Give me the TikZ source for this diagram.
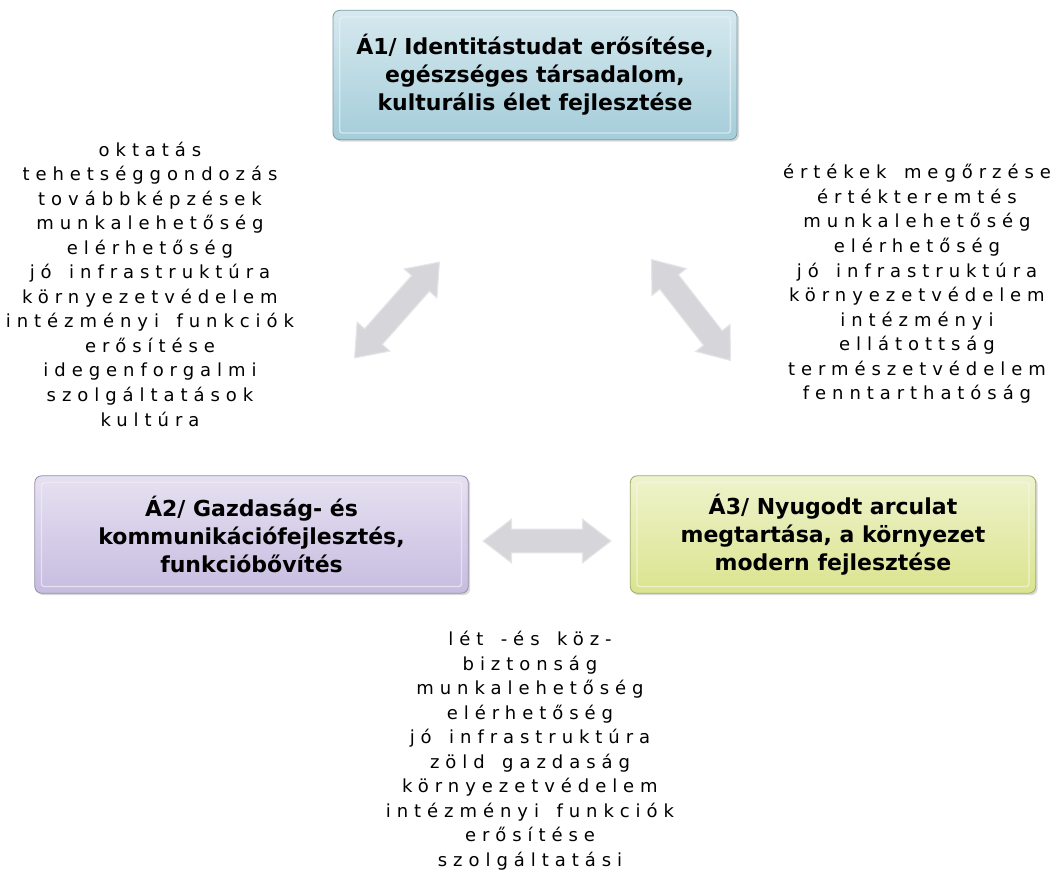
\documentclass[tikz,border=0pt]{standalone}
\usepackage{fontspec}
\setmainfont{DejaVu Sans}
\newfontfamily\listfont{DejaVu Sans}[LetterSpace=33,WordSpace=1.5]
\usetikzlibrary{shapes.arrows,shadows,positioning}
\definecolor{aonecol}{HTML}{A4CDDA}
\definecolor{atwocol}{HTML}{C7BCE0}
\definecolor{athreecol}{HTML}{DAE48E}
\definecolor{arrowgray}{HTML}{D6D6DA}

\begin{document}
\begin{tikzpicture}
[x=0.75pt,y=-0.75pt,
stagebox/.style={rounded corners=5pt,draw=#1!75!black,line width=.6pt,
  top color=#1!45!white,bottom color=#1,
  drop shadow={shadow xshift=1.5pt,shadow yshift=-1.5pt,opacity=.3,fill=black!50},
  path picture={\draw[#1!25!white,opacity=.7,line width=1pt,rounded corners=2pt]
    ([shift={(5pt,-5pt)}]path picture bounding box.north west) rectangle
    ([shift={(-5pt,5pt)}]path picture bounding box.south east);},
  font=\fontsize{16.5}{21}\selectfont\bfseries,align=center,inner sep=0pt},
listtext/.style={font=\fontsize{13.5}{18.4}\selectfont\listfont,align=center,inner sep=0pt},
twoway/.style={double arrow,fill=arrowgray,draw=arrowgray!60!white,line width=.8pt,
  minimum height=96pt,double arrow head extend=7.5pt,
  double arrow tip angle=75,inner xsep=0pt,inner ysep=8.5pt},
]
\useasboundingbox (0,0) rectangle (1056,871);

%the three aims
\node[stagebox=aonecol,minimum width=303pt,minimum height=97pt] (A1) at (535,75)
  {Á1/ Identitástudat erősítése,\\ egészséges társadalom,\\ kulturális élet fejlesztése};
\node[stagebox=atwocol,minimum width=325pt,minimum height=88pt] (A2) at (251.5,534.5)
  {Á2/ Gazdaság- és\\ kommunikációfejlesztés,\\ funkcióbővítés};
\node[stagebox=athreecol,minimum width=304pt,minimum height=88pt] (A3) at (833,534.5)
  {Á3/ Nyugodt arculat\\ megtartása, a környezet\\ modern fejlesztése};

%arrows between them
\node[twoway,rotate=48.5] (A12) at (397,310) {};
\node[twoway,rotate=-52] (A13) at (691,310) {};
\node[twoway] (A23) at (547,541) {};

%keywords
\node[listtext] (L12) at (150,284) {oktatás\\ tehetséggondozás\\ továbbképzések\\
  munkalehetőség\\ elérhetőség\\ jó infrastruktúra\\ környezetvédelem\\
  intézményi funkciók\\ erősítése\\ idegenforgalmi\\ szolgáltatások\\ kultúra};
\node[listtext] (L13) at (917,284) {értékek megőrzése\\ értékteremtés\\
  munkalehetőség\\ elérhetőség\\ jó infrastruktúra\\ környezetvédelem\\
  intézményi\\ ellátottság\\ természetvédelem\\ fenntarthatóság};
\node[listtext,anchor=north] (L23) at (530,631) {lét -és köz-\\ biztonság\\
  munkalehetőség\\ elérhetőség\\ jó infrastruktúra\\ zöld gazdaság\\
  környezetvédelem\\ intézményi funkciók\\ erősítése\\ szolgáltatási};
\end{tikzpicture}
\end{document}
